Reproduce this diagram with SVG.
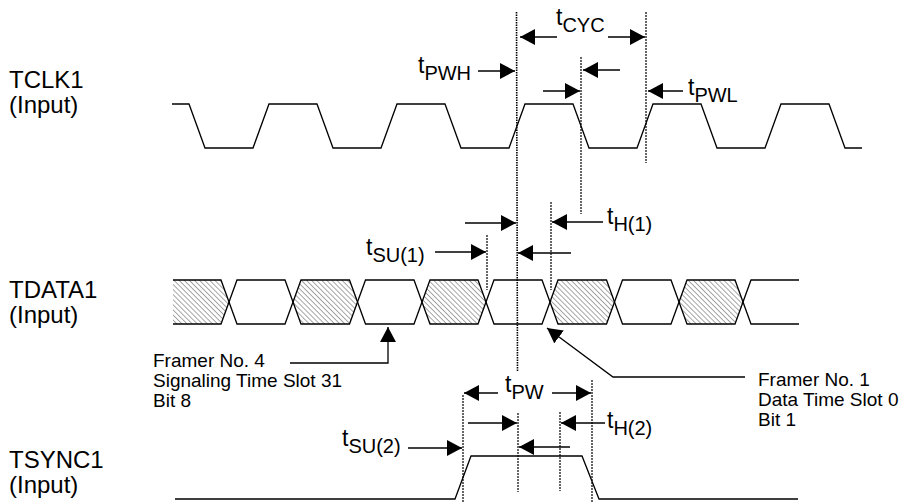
<svg xmlns="http://www.w3.org/2000/svg" width="909" height="502" viewBox="0 0 909 502">
<style>
.lbl{font-family:"Liberation Sans",Arial,sans-serif;font-size:24px;fill:#000}
.ann{font-family:"Liberation Sans",Arial,sans-serif;font-size:19px;fill:#000}
.t{font-family:"Liberation Sans",Arial,sans-serif;font-size:23px;fill:#000}
.sub{font-size:20px}
.wave{fill:none;stroke:#000;stroke-width:1.3;stroke-linejoin:miter}
.dot{stroke:#000;stroke-width:1.2;stroke-dasharray:2 1;fill:none}
.dotb{stroke:#000;stroke-width:1.6;stroke-dasharray:1.5 1;fill:none}
.arr{stroke:#000;stroke-width:1.3;fill:none;marker-end:url(#ah)}
.hat{fill:url(#hatch);stroke:none}
</style>
<defs>
<marker id="ah" markerUnits="userSpaceOnUse" markerWidth="16" markerHeight="16" refX="15" refY="8" orient="auto"><path d="M0,0 L15,8 L0,16 z" fill="#000"/></marker>
<pattern id="hatch" patternUnits="userSpaceOnUse" width="3.6" height="3.6" patternTransform="rotate(-45)"><line x1="0" y1="0" x2="0" y2="3.6" stroke="#222" stroke-width="0.8"/></pattern>
</defs>
<rect width="909" height="502" fill="#fff"/>

<g id="labels">
<text class="lbl" x="9" y="88">TCLK1</text>
<text class="lbl" x="9" y="113">(Input)</text>
<text class="lbl" x="9" y="298">TDATA1</text>
<text class="lbl" x="9" y="323">(Input)</text>
<text class="lbl" x="9" y="468">TSYNC1</text>
<text class="lbl" x="9" y="493">(Input)</text>
</g>

<g id="tclk1">
<path class="wave" d="M172,104 H189 L205,148 H253 L269,104 H317 L333,148 H381 L397,104 H445 L461,148 H509 L525,104 H573 L589,148 H637 L653,104 H701 L717,148 H765 L781,104 H829 L845,148 H862"/>
</g>

<g id="tdata1">
<polygon class="hat" points="173,280 221,280 229,302 221,324 173,324"/>
<polygon class="hat" points="293,302 301,280 349.5,280 357.5,302 349.5,324 301,324"/>
<polygon class="hat" points="422,302 430,280 478,280 486,302 478,324 430,324"/>
<polygon class="hat" points="550,302 558,280 606.5,280 614.5,302 606.5,324 558,324"/>
<polygon class="hat" points="679,302 687,280 735,280 743,302 735,324 687,324"/>
<path class="wave" d="M173,280 H221 L237,324 H285 L301,280 H349.5 L365.5,324 H414 L430,280 H478 L494,324 H542 L558,280 H606.5 L622.5,324 H671 L687,280 H735 L751,324 H799"/>
<path class="wave" d="M173,324 H221 L237,280 H285 L301,324 H349.5 L365.5,280 H414 L430,324 H478 L494,280 H542 L558,324 H606.5 L622.5,280 H671 L687,324 H735 L751,280 H799"/>
</g>

<g id="tsync1">
<path class="wave" d="M175,499 H455 L471,456 H582 L599,499 H798"/>
</g>

<g id="guides">
<line class="dotb" x1="516.5" y1="12" x2="517.5" y2="372"/>
<line class="dot" x1="646" y1="12" x2="646" y2="163"/>
<line class="dot" x1="581" y1="57" x2="581" y2="214"/>
<line class="dot" x1="551" y1="202" x2="551" y2="290"/>
<line class="dot" x1="487" y1="235" x2="487" y2="290"/>
<line class="dot" x1="463" y1="395" x2="463" y2="502"/>
<line class="dot" x1="592" y1="380" x2="592" y2="502"/>
<line class="dot" x1="518" y1="413" x2="518" y2="492"/>
<line class="dot" x1="560" y1="412" x2="560" y2="491"/>
</g>

<g id="connectors">
<line class="arr" x1="557" y1="37" x2="520" y2="37"/>
<line class="arr" x1="608" y1="37" x2="645" y2="37"/>
<line class="arr" x1="478" y1="71" x2="515" y2="71"/>
<line class="arr" x1="620" y1="70" x2="583" y2="70"/>
<line class="arr" x1="543" y1="91" x2="580" y2="91"/>
<line class="arr" x1="683" y1="91" x2="648" y2="91"/>
<line class="arr" x1="465" y1="223" x2="516" y2="223"/>
<line class="arr" x1="603" y1="222" x2="552" y2="222"/>
<line class="arr" x1="435" y1="252" x2="486" y2="252"/>
<line class="arr" x1="571" y1="253" x2="518" y2="253"/>
<line class="arr" x1="498" y1="393" x2="464" y2="393"/>
<line class="arr" x1="552" y1="393" x2="591" y2="393"/>
<line class="arr" x1="468" y1="423" x2="517" y2="423"/>
<line class="arr" x1="605" y1="423" x2="561" y2="423"/>
<line class="arr" x1="570" y1="447" x2="519" y2="447"/>
<line class="arr" x1="408" y1="448" x2="462" y2="448"/>
<path class="arr" d="M290,363 H388 V327"/>
<path class="arr" d="M745,377 H613 L547,328"/>
</g>

<g id="timing-labels">
<text class="t" x="556" y="25">t<tspan class="sub" dy="7">CYC</tspan></text>
<text class="t" x="418" y="73">t<tspan class="sub" dy="7">PWH</tspan></text>
<text class="t" x="688" y="95">t<tspan class="sub" dy="7">PWL</tspan></text>
<text class="t" x="607" y="224">t<tspan class="sub" dy="7">H(1)</tspan></text>
<text class="t" x="366" y="255">t<tspan class="sub" dy="7">SU(1)</tspan></text>
<text class="t" x="505" y="392">t<tspan class="sub" dy="7">PW</tspan></text>
<text class="t" x="607" y="428">t<tspan class="sub" dy="7">H(2)</tspan></text>
<text class="t" x="342" y="446">t<tspan class="sub" dy="7">SU(2)</tspan></text>
</g>

<g id="annotations">
<text class="ann" x="153" y="367">Framer No. 4</text>
<text class="ann" x="153" y="387">Signaling Time Slot 31</text>
<text class="ann" x="153" y="407">Bit 8</text>
<text class="ann" x="758" y="386">Framer No. 1</text>
<text class="ann" x="758" y="406">Data Time Slot 0</text>
<text class="ann" x="758" y="426">Bit 1</text>
</g>
</svg>
